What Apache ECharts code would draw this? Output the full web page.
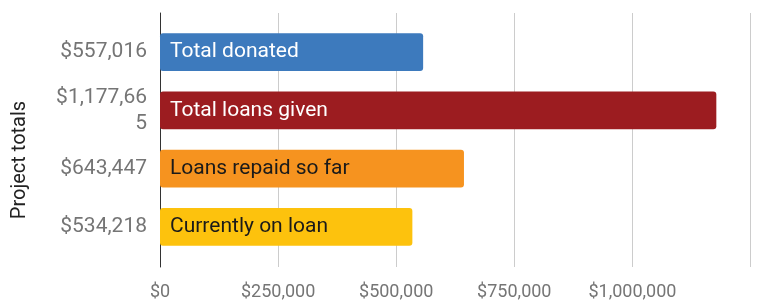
<!DOCTYPE html>
<html><head><meta charset="utf-8">
<script src="https://cdn.jsdelivr.net/npm/echarts@6/dist/echarts.min.js"></script>
<style>html,body{margin:0;padding:0;background:#fff}#c{width:758px;height:302px}</style>
</head><body><div id="c"></div>
<script>
const categories = ['Total donated', 'Total loans given', 'Loans repaid so far', 'Currently on loan'];
const values = [557016, 1177665, 643447, 534218];
const valueLabels = ['$557,016', '$1,177,665', '$643,447', '$534,218'];
const barColors = ['#3d7abd', '#9c1c20', '#f6931f', '#fdc20d'];
const labelColors = ['#ffffff', '#ffffff', '#1a1a1a', '#1a1a1a'];
const xTicks = [0, 250000, 500000, 750000, 1000000, 1250000];
const axisTitle = 'Project totals';

const chart = echarts.init(document.getElementById('c'), null, {renderer: 'canvas'});
const fmt = v => '$' + v.toLocaleString('en-US');
chart.setOption({
  animation: false,
  textStyle: {fontFamily: 'Roboto'},
  grid: [
    {left: 160, right: 7.5, top: 23, bottom: 46},
    {left: 160, right: 7.5, top: 13, bottom: 35}
  ],
  xAxis: [
    {gridIndex: 0, type: 'value', min: xTicks[0], max: xTicks[xTicks.length-1], interval: xTicks[1]-xTicks[0], show: false},
    {gridIndex: 1, type: 'value', min: xTicks[0], max: xTicks[xTicks.length-1], interval: xTicks[1]-xTicks[0],
     axisLine: {show: false}, axisTick: {show: false},
     splitLine: {show: true, lineStyle: {color: '#cccccc', width: 1}},
     axisLabel: {color: '#757575', fontSize: 18, margin: 16, showMaxLabel: false, formatter: fmt}}
  ],
  yAxis: [
    {gridIndex: 0, type: 'category', inverse: true, data: valueLabels,
     axisLine: {show: false}, axisTick: {show: false},
     axisLabel: {color: '#757575', fontSize: 21, margin: 13, width: 96, overflow: 'breakAll', lineHeight: 26, align: 'right'}},
    {gridIndex: 1, type: 'value', min: 0, max: 1, axisLabel: {show: false}, axisTick: {show: false},
     splitLine: {show: false}, axisLine: {show: true, onZero: false, lineStyle: {color: '#333333', width: 1}}}
  ],
  graphic: [{
    type: 'text', x: 20, y: 160, rotation: Math.PI/2,
    style: {text: axisTitle, fill: '#222222', font: '20px Roboto', align: 'center', verticalAlign: 'middle'}
  }],
  series: [{
    type: 'bar', xAxisIndex: 0, yAxisIndex: 0, barCategoryGap: '35%',
    data: values.map((v, i) => ({
      value: v,
      itemStyle: {color: barColors[i], borderRadius: 3},
      label: {color: labelColors[i]}
    })),
    label: {show: true, position: 'insideLeft', distance: 10, fontSize: 21,
      formatter: p => categories[p.dataIndex]}
  }]
});
</script></body></html>
